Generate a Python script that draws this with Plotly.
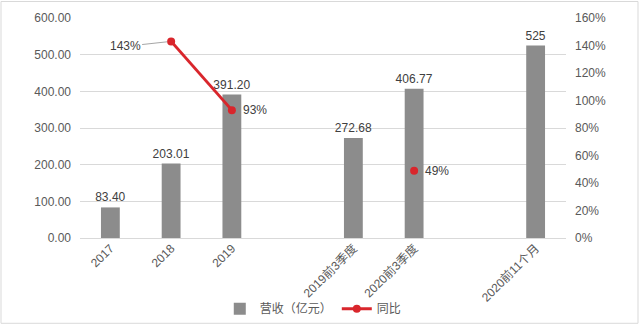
import plotly.graph_objects as go

categories = ["2017", "2018", "2019", "", "2019前3季度", "2020前3季度", "", "2020前11个月"]
revenue = [83.40, 203.01, 391.20, None, 272.68, 406.77, None, 525]
revenue_labels = ["83.40", "203.01", "391.20", "", "272.68", "406.77", "", "525"]
yoy = [None, 143, 93, None, None, 49, None, None]
yoy_labels = ["", "143%", "93%", "", "", "49%", "", ""]

positions = list(range(len(categories)))

W, H = 640, 335
ml, mr, mt, mb = 80, 74, 18, 90
pw, ph = W - ml - mr, H - mt - mb

font_family = "Liberation Sans, Arial, Noto Sans CJK SC, sans-serif"
txt_color = "#595959"

fig = go.Figure()
fig.add_trace(go.Bar(
    x=positions, y=revenue, name="营收（亿元）",
    marker=dict(color="#8c8c8c", line=dict(width=0)),
    width=0.31,
    text=revenue_labels, textposition="outside", cliponaxis=False,
    constraintext="none",
    textfont=dict(size=12, color="#404040", family=font_family),
    yaxis="y",
))
fig.add_trace(go.Scatter(
    x=positions, y=yoy, name="同比", mode="lines+markers",
    line=dict(color="#d9262c", width=3),
    marker=dict(color="#d9262c", size=8),
    connectgaps=False, cliponaxis=False,
    yaxis="y2",
))

for i, (v, lab) in enumerate(zip(yoy, yoy_labels)):
    if v is None or not lab:
        continue
    if i == 1:
        # callout with leader line to the left
        fig.add_annotation(
            x=positions[i], y=v, xref="x", yref="y2",
            text=lab, showarrow=True, arrowhead=0, arrowwidth=1,
            arrowcolor="#a6a6a6", ax=-46, ay=5, standoff=4,
            font=dict(size=12, color="#404040", family=font_family),
        )
    else:
        fig.add_annotation(
            x=positions[i], y=v, xref="x", yref="y2",
            text=lab, showarrow=False, xanchor="left", yanchor="middle",
            xshift=9,
            font=dict(size=12, color="#404040", family=font_family),
        )

# outer border
fig.add_shape(
    type="rect", xref="paper", yref="paper",
    x0=(1 - ml) / pw, x1=(W - 2 - ml) / pw,
    y0=-(H - 2 - (H - mb)) / ph, y1=(mt - 1) / ph + 1,
    line=dict(color="#d9d9d9", width=1), layer="below",
)

fig.update_layout(
    width=W, height=H,
    margin=dict(l=ml, r=mr, t=mt, b=mb),
    paper_bgcolor="white", plot_bgcolor="white",
    font=dict(family=font_family, size=12, color=txt_color),
    xaxis=dict(
        range=[-0.5, len(categories) - 0.5],
        tickmode="array", tickvals=positions, ticktext=categories,
        tickangle=-45, showgrid=False, showline=False, zeroline=False,
        ticks="", tickfont=dict(size=12, color=txt_color, family=font_family),
    ),
    yaxis=dict(
        range=[0, 600], dtick=100, tickformat=".2f",
        showgrid=True, gridcolor="#d9d9d9", gridwidth=1,
        zeroline=True, zerolinecolor="#d9d9d9", zerolinewidth=1,
        showline=False, ticks="", ticklabelstandoff=8,
        tickfont=dict(size=12, color=txt_color),
    ),
    yaxis2=dict(
        range=[0, 160], dtick=20, ticksuffix="%", overlaying="y", side="right",
        showgrid=False, zeroline=False, showline=False, ticks="",
        ticklabelstandoff=8,
        tickfont=dict(size=12, color=txt_color),
    ),
    legend=dict(
        orientation="h", x=0.48, xanchor="center", y=(245 - 318) / ph, yanchor="middle",
        font=dict(size=12, color=txt_color, family="Noto Sans CJK SC, sans-serif"),
        bgcolor="rgba(0,0,0,0)", traceorder="normal",
    ),
    showlegend=True,
)

fig.write_html("out.html")
